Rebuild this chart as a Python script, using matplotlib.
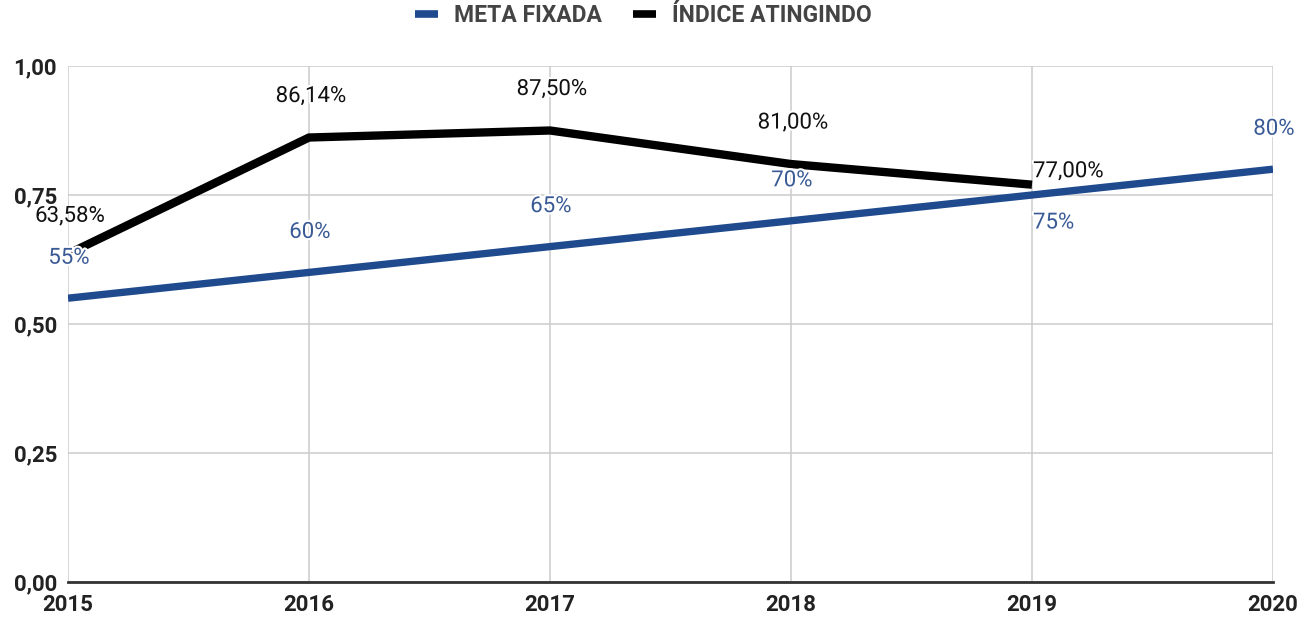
import matplotlib
matplotlib.use("Agg")
import matplotlib.pyplot as plt
import matplotlib.patheffects as pe
from matplotlib.lines import Line2D

plt.rcParams['font.family'] = ['Roboto', 'DejaVu Sans']

years = [2015, 2016, 2017, 2018, 2019, 2020]
meta = [0.55, 0.60, 0.65, 0.70, 0.75, 0.80]
meta_labels = ["55%", "60%", "65%", "70%", "75%", "80%"]
indice_years = [2015, 2016, 2017, 2018, 2019]
indice = [0.6358, 0.8614, 0.875, 0.81, 0.77]
indice_labels = ["63,58%", "86,14%", "87,50%", "81,00%", "77,00%"]
y_ticks = [0.0, 0.25, 0.5, 0.75, 1.0]
y_tick_labels = ["0,00", "0,25", "0,50", "0,75", "1,00"]
series_names = ["META FIXADA", "ÍNDICE ATINGINDO"]

BLUE = "#1f4b8e"
BLUE_TXT = "#3a5a96"
BLACK = "#000000"

fig = plt.figure(figsize=(13.01, 6.17), dpi=100)
W, H = 1301, 617
ax = fig.add_axes([68 / W, 1 - 582 / H, (1273 - 68) / W, (582 - 66) / H])

ax.plot(indice_years, indice, color=BLACK, lw=6, solid_capstyle='butt', solid_joinstyle='miter', zorder=3)
ax.plot(years, meta, color=BLUE, lw=5.3, solid_capstyle='butt', zorder=4)

ax.set_xlim(2015, 2020)
ax.set_ylim(0, 1.0)
ax.set_xticks(years)
ax.set_xticklabels([str(y) for y in years])
ax.set_yticks(y_ticks)
ax.set_yticklabels(y_tick_labels)
ax.grid(True, color="#cccccc", lw=1.1, zorder=0)
for s in ['top', 'right', 'left']:
    ax.spines[s].set_visible(False)
ax.spines['bottom'].set_color("#333333")
ax.spines['bottom'].set_linewidth(2)
ax.spines['bottom'].set_zorder(5)
ax.tick_params(length=0, labelsize=16, labelcolor="#222222")
ax.tick_params(axis='x', pad=8.5)
ax.tick_params(axis='y', pad=8)
for lbl in ax.get_xticklabels() + ax.get_yticklabels():
    lbl.set_fontweight('bold')

halo = [pe.withStroke(linewidth=3, foreground='white')]

# black labels
for i, (x, v, t) in enumerate(zip(indice_years, indice, indice_labels)):
    if i == len(indice) - 1:
        off, ha = (1, 13), 'left'
    elif i == 0:
        off, ha = (2, 38), 'center'
    else:
        off, ha = (2, 41), 'center'
    ax.annotate(t, (x, v), xytext=off, textcoords='offset pixels', ha=ha, va='center',
                fontsize=16, color="#111111", path_effects=halo if i else None,
                zorder=6, annotation_clip=False)

# blue labels
for i, (x, v, t) in enumerate(zip(years, meta, meta_labels)):
    if i == 4:
        off, ha = (1, -28), 'left'
    else:
        off, ha = (1, 40), 'center'
    ax.annotate(t, (x, v), xytext=off, textcoords='offset pixels', ha=ha, va='center',
                fontsize=16, color=BLUE_TXT, path_effects=halo, zorder=7, annotation_clip=False)

handles = [Line2D([0], [0], color=BLUE, lw=5.5, solid_capstyle='butt'),
           Line2D([0], [0], color=BLACK, lw=5.5, solid_capstyle='butt')]
leg = fig.legend(handles, series_names, loc='center', bbox_to_anchor=(0.4946, 1 - 16 / H),
                 ncol=2, frameon=False, handlelength=1.0, handletextpad=0.7, columnspacing=1.35,
                 borderpad=0, prop={'weight': 'bold', 'size': 16.5})
for t in leg.get_texts():
    t.set_color("#444444")

fig.savefig("out.png", dpi=100)
